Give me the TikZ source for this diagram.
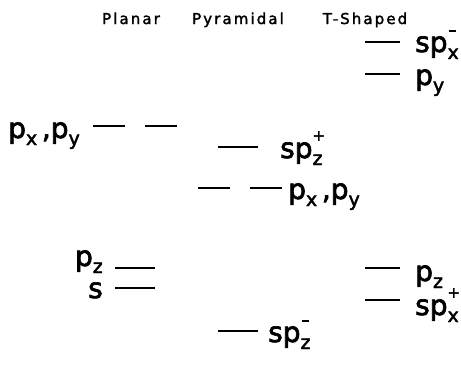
\documentclass[tikz,border=0pt]{standalone}
\usepackage{fontspec}
\setmainfont{DejaVu Sans}
\newfontfamily\labfont[FakeBold=2.5]{DejaVu Sans}
\newfontfamily\hdrfont[FakeBold=2,LetterSpace=14]{DejaVu Sans}
\newcommand\orbsub[2]{#1\raisebox{-0.25em}{\fontsize{19}{19}\selectfont #2}}
\newcommand\orbss[3]{#1\rlap{\raisebox{0.62em}{\fontsize{15}{15}\selectfont #3}}\raisebox{-0.25em}{\fontsize{19}{19}\selectfont #2}}
\newcommand\supminus{\hspace{1pt}\rule[2.5pt]{7pt}{2pt}}
\begin{document}
\begin{tikzpicture}[x=1pt,y=-1pt,
  level/.style={line width=2.2pt},
  lbl/.style={anchor=base west,inner sep=0pt,font=\labfont\fontsize{28}{28}\selectfont},
  lblr/.style={anchor=base east,inner sep=0pt,font=\labfont\fontsize{28}{28}\selectfont},
  hdr/.style={anchor=base,inner sep=0pt,font=\hdrfont\fontsize{15}{15}\selectfont}]
\useasboundingbox (0,0) rectangle (461,368);
% headers
\node[hdr] (hp) at (131,24) {Planar};
\node[hdr] (hy) at (238,24) {Pyramidal};
\node[hdr] (ht) at (365,24) {T-Shaped};
% Planar
\node[lbl] (pxy1) at (8,138) {\orbsub{p}{x}\,,\orbsub{p}{y}};
\draw[level] (93,126) -- (125,126);
\draw[level] (145,126) -- (177,126);
\node[lblr] (pz1) at (103,266) {\orbsub{p}{z}};
\draw[level] (115,268) -- (155,268);
\node[lblr] (s1) at (103,298) {s};
\draw[level] (115,288) -- (155,288);
% Pyramidal
\draw[level] (218,147) -- (258,147);
\node[lbl] (spzp) at (280,158) {\orbss{sp}{z}{+}};
\draw[level] (198,188) -- (230,188);
\draw[level] (250,188) -- (282,188);
\node[lbl] (pxy2) at (288,199) {\orbsub{p}{x}\,,\orbsub{p}{y}};
\draw[level] (218,331) -- (258,331);
\node[lbl] (spzm) at (268,342) {\orbss{sp}{z}{\supminus}};
% T-shaped
\draw[level] (365,42) -- (400,42);
\node[lbl] (spxm) at (415,52) {\orbss{sp}{x}{\supminus}};
\draw[level] (365,74) -- (400,74);
\node[lbl] (py3) at (415,85) {\orbsub{p}{y}};
\draw[level] (365,268) -- (400,268);
\node[lbl] (pz3) at (415,281) {\orbsub{p}{z}};
\draw[level] (365,300) -- (400,300);
\node[lbl] (spxp) at (415,315) {\orbss{sp}{x}{+}};
\end{tikzpicture}
\end{document}
